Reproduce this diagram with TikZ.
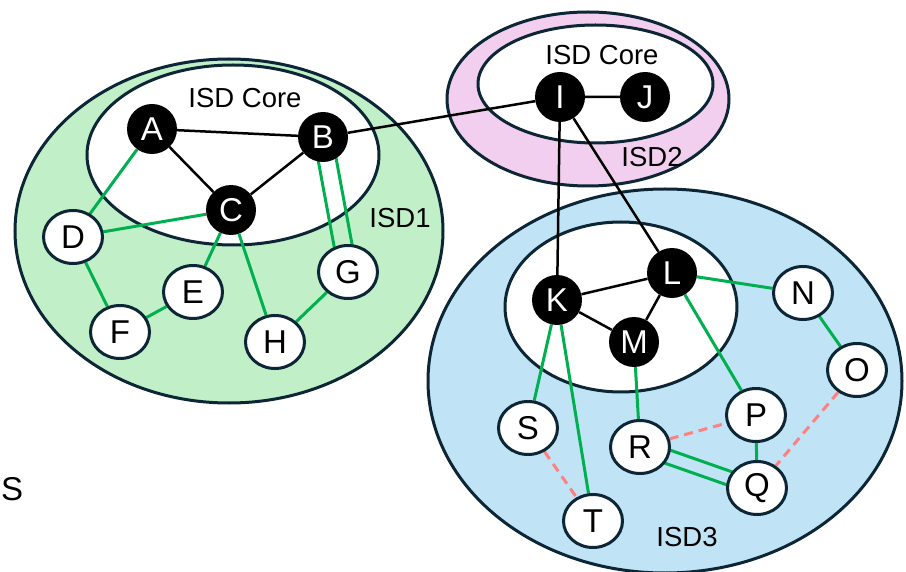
\documentclass[tikz,border=0pt]{standalone}
\usepackage{fontspec}
\setmainfont{Liberation Sans}
\usetikzlibrary{shapes.geometric,calc}
\definecolor{rim}{RGB}{12,38,54}
\definecolor{isdgreen}{RGB}{193,240,200}
\definecolor{isdpink}{RGB}{242,207,238}
\definecolor{isdblue}{RGB}{192,228,245}
\definecolor{linkgreen}{RGB}{0,176,80}
\definecolor{peerred}{RGB}{255,128,128}
\pgfdeclarelayer{zones}
\pgfdeclarelayer{links}
\pgfsetlayers{zones,links,main}
\tikzset{
  zone/.style={draw=rim, line width=3pt},
  corenode/.style={circle, fill=black, text=white, minimum size=50pt, inner sep=0pt,
    font=\fontsize{33}{33}\selectfont},
  leafnode/.style={ellipse, draw=rim, line width=3pt, fill=white, minimum width=59pt,
    minimum height=53pt, inner sep=0pt, font=\fontsize{33}{33}\selectfont},
  zonelabel/.style={font=\fontsize{27.5}{27.5}\selectfont},
  corelink/.style={black, line width=2.5pt},
  childlink/.style={linkgreen, line width=3pt},
  peerlink/.style={peerred, line width=3pt, dash pattern=on 9pt off 6pt},
}
\begin{document}
\begin{tikzpicture}[x=1pt,y=-1pt]
\useasboundingbox (0,0) rectangle (906,572);

% isolation domains and their cores
\begin{pgfonlayer}{zones}
  \draw[zone, fill=isdgreen] (229,231) ellipse [x radius=214, y radius=172];
  \draw[zone, fill=white] (233,155) ellipse [x radius=146, y radius=90];
  \draw[zone, fill=isdpink] (588,99) ellipse [x radius=141, y radius=87];
  \draw[zone, fill=white] (595.5,84) ellipse [x radius=117.5, y radius=59];
  \draw[zone, fill=isdblue] (665,381) ellipse [x radius=237, y radius=192];
  \draw[zone, fill=white] (621,307) ellipse [x radius=116, y radius=85];
\end{pgfonlayer}

\node[zonelabel] (core1) at (245,98) {ISD Core};
\node[zonelabel] (core2) at (602,55) {ISD Core};
\node[zonelabel] (isd1) at (400,218) {ISD1};
\node[zonelabel] (isd2) at (652,157) {ISD2};
\node[zonelabel] (isd3) at (687,537) {ISD3};
\node[font=\fontsize{33}{33}\selectfont, anchor=west, inner sep=0pt] (stray) at (1,489) {S};

% core ASes
\node[corenode] (A) at (152,129) {A};
\node[corenode] (B) at (323,137) {B};
\node[corenode] (C) at (231,210) {C};
\node[corenode] (I) at (560,97) {I};
\node[corenode] (J) at (645,97) {J};
\node[corenode] (K) at (557,300) {K};
\node[corenode] (L) at (672,273) {L};
\node[corenode] (M) at (634,342) {M};

% non-core ASes
\node[leafnode] (D) at (73,237) {D};
\node[leafnode] (E) at (193,292) {E};
\node[leafnode] (F) at (120,332) {F};
\node[leafnode] (G) at (348,272) {G};
\node[leafnode] (H) at (275,342) {H};
\node[leafnode] (N) at (803,293) {N};
\node[leafnode] (O) at (857,370) {O};
\node[leafnode] (P) at (756,415) {P};
\node[leafnode] (Q) at (757,488) {Q};
\node[leafnode] (R) at (640,447) {R};
\node[leafnode] (S) at (528,428) {S};
\node[leafnode] (T) at (593,521) {T};

\begin{pgfonlayer}{links}
  % core links
  \draw[corelink] (A) -- (B) (A) -- (C) (B) -- (C) (B) -- (I) (I) -- (J)
    (I) -- (K) (I) -- (L) (K) -- (L) (K) -- (M) (L) -- (M);
  % parent-child links
  \draw[childlink] (A) -- (D) (C) -- (D) (C) -- (E) (C) -- (H) (D) -- (F)
    (F) -- (E) (H) -- (G) (L) -- (N) (L) -- (P) (K) -- (S) (K) -- (T)
    (M) -- (R) (N) -- (O) (P) -- (Q);
  \draw[childlink] ($(B)!9pt!90:(G)$) -- ($(G)!9pt!-90:(B)$);
  \draw[childlink] ($(B)!9pt!-90:(G)$) -- ($(G)!9pt!90:(B)$);
  \draw[childlink] ($(R)!7pt!90:(Q)$) -- ($(Q)!7pt!-90:(R)$);
  \draw[childlink] ($(R)!7pt!-90:(Q)$) -- ($(Q)!7pt!90:(R)$);
  % peering links
  \draw[peerlink] (R) -- (P) (S) -- (T) (O) -- (Q);
\end{pgfonlayer}
\end{tikzpicture}
\end{document}
